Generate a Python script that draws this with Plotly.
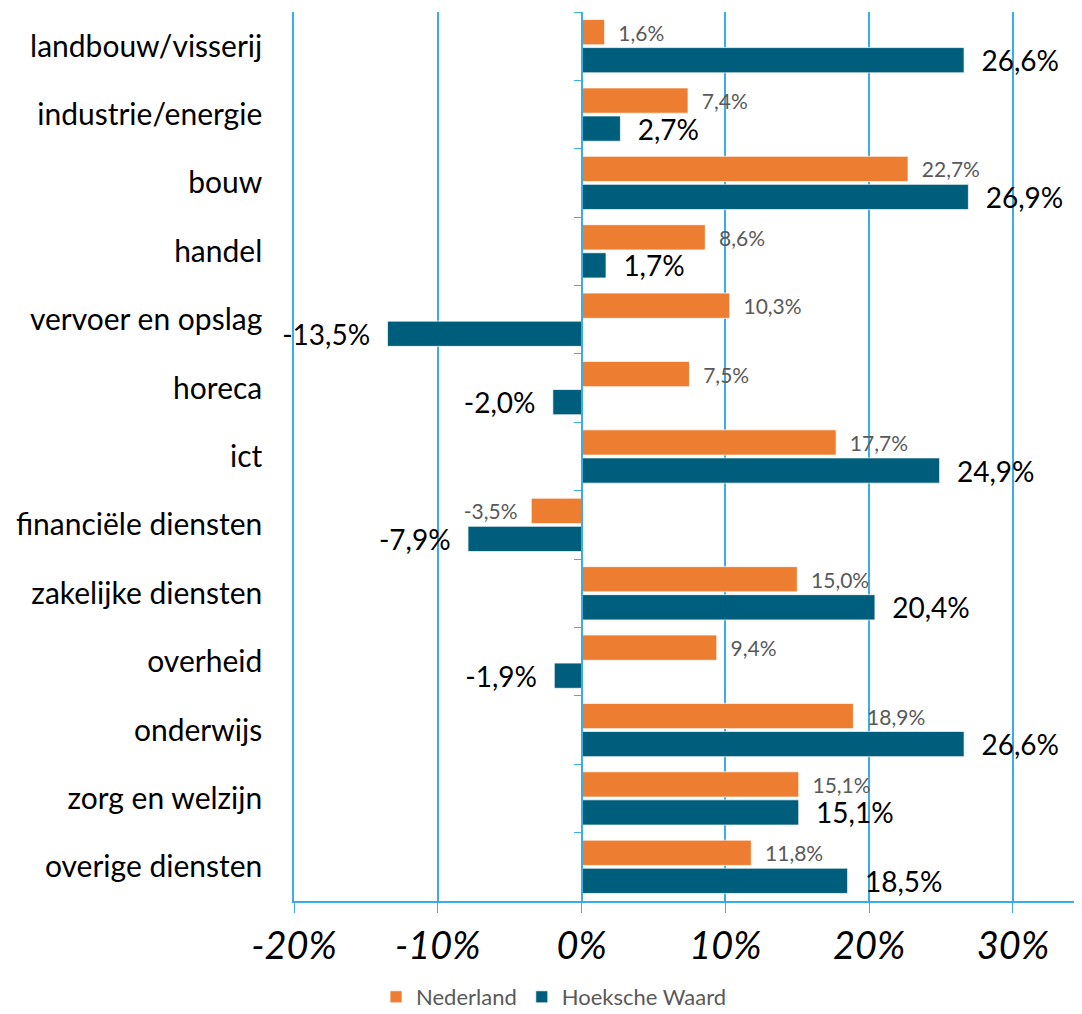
import plotly.graph_objects as go

sectoren = ['landbouw/visserij', 'industrie/energie', 'bouw', 'handel',
            'vervoer en opslag', 'horeca', 'ict', 'financiële diensten',
            'zakelijke diensten', 'overheid', 'onderwijs', 'zorg en welzijn',
            'overige diensten']
nederland = [1.6, 7.4, 22.7, 8.6, 10.3, 7.5, 17.7, -3.5, 15.0, 9.4, 18.9, 15.1, 11.8]
hoeksche_waard = [26.6, 2.7, 26.9, 1.7, -13.5, -2.0, 24.9, -7.9, 20.4, -1.9, 26.6, 15.1, 18.5]
x_ticks = [-20, -10, 0, 10, 20, 30]

blauw = '#3AAEE0'
font = 'Lato, "Open Sans", sans-serif'


def labels(waarden, pad):
    # komma als decimaalteken, wat ruimte tussen balk en label
    uit = []
    for v in waarden:
        s = f'{v:.1f}'.replace('.', ',') + '%'
        uit.append('\u00a0' * pad + s if v >= 0 else s + '\u00a0' * pad)
    return uit


fig = go.Figure()
fig.add_trace(go.Bar(
    y=sectoren, x=nederland, orientation='h', name='Nederland',
    marker=dict(color='#ED7D31', line=dict(color='rgba(255,255,255,0.7)', width=1)),
    text=labels(nederland, 2), textposition='outside', constraintext='none',
    textfont=dict(size=21, color='#595959', family=font),
    cliponaxis=False,
))
fig.add_trace(go.Bar(
    y=sectoren, x=hoeksche_waard, orientation='h', name='Hoeksche Waard',
    marker=dict(color='#005E7D', line=dict(color='rgba(255,255,255,0.7)', width=1)),
    text=labels(hoeksche_waard, 2), textposition='outside', constraintext='none',
    textfont=dict(size=28, color='#000000', family=font),
    cliponaxis=False,
))
# onzichtbare hulptrace zodat de categorie-as op 0% zijn streepjes krijgt
fig.add_trace(go.Scatter(
    y=sectoren, x=[0] * len(sectoren), yaxis='y2', mode='markers',
    marker=dict(opacity=0), showlegend=False, hoverinfo='skip',
))

x_min, x_max = -20, 34.8
y_range = [len(sectoren) - 0.5, -0.5]
fig.update_layout(
    width=1082, height=1014,
    margin=dict(l=286, r=8, t=4, b=112),
    paper_bgcolor='white', plot_bgcolor='white',
    barmode='group', bargap=0.18, bargroupgap=0.1,
    font=dict(family=font, color='#000000'),
    xaxis=dict(
        range=[x_min, x_max], tickvals=x_ticks,
        ticktext=[f'{t}%' for t in x_ticks],
        tickfont=dict(size=38, family=font, style='italic'),
        showgrid=True, gridcolor=blauw, gridwidth=1.5,
        zeroline=True, zerolinecolor=blauw, zerolinewidth=1.5,
        showline=True, linecolor=blauw, linewidth=2,
        ticks='outside', ticklen=10, tickcolor=blauw,
        automargin=False,
    ),
    yaxis=dict(
        type='category', categoryorder='array', categoryarray=sectoren,
        range=y_range, tickfont=dict(size=30, family=font),
        showgrid=False, ticks='', ticklabelstandoff=24,
        showline=True, linecolor=blauw, linewidth=1.5,
        automargin=False,
    ),
    yaxis2=dict(
        type='category', categoryorder='array', categoryarray=sectoren,
        range=y_range, overlaying='y', anchor='free',
        position=(0 - x_min) / (x_max - x_min), side='left',
        showticklabels=False, showgrid=False,
        ticks='outside', tickson='boundaries', ticklen=7, tickcolor=blauw,
        showline=True, linecolor=blauw, linewidth=1.5,
        automargin=False,
    ),
    legend=dict(
        orientation='h', x=0.33, xanchor='center', y=-0.108, yanchor='middle',
        font=dict(size=22, color='#595959', family=font),
    ),
)

fig.write_html('out.html')
